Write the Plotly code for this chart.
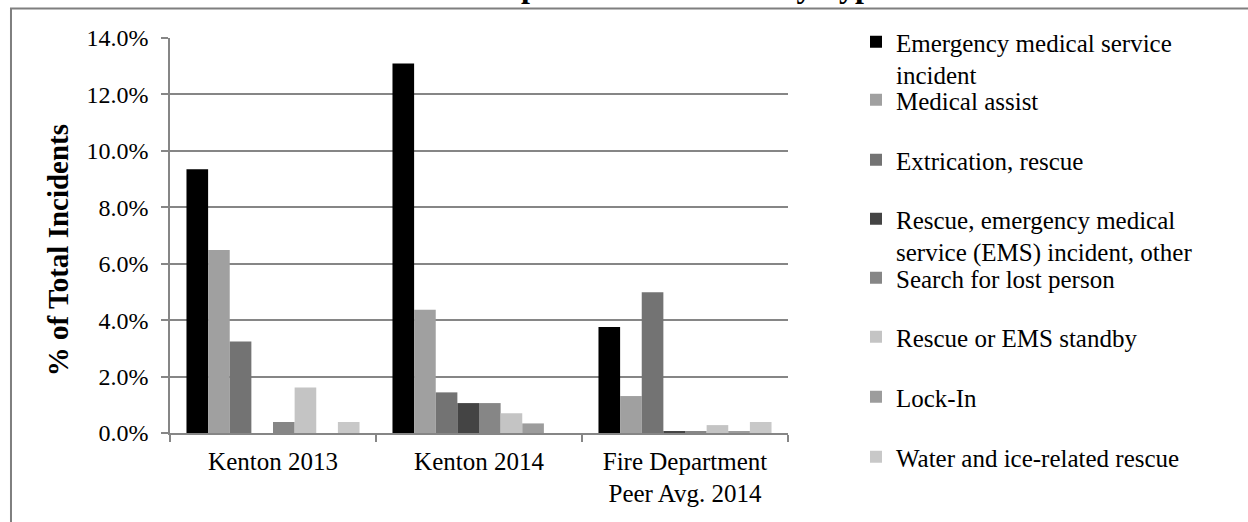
import plotly.graph_objects as go

categories = ["Kenton 2013", "Kenton 2014", "Fire Department<br>Peer Avg. 2014"]

series_names = [
    "Emergency medical service<br>incident",
    "Medical assist",
    "Extrication, rescue",
    "Rescue, emergency medical<br>service (EMS) incident, other",
    "Search for lost person",
    "Rescue or EMS standby",
    "Lock-In",
    "Water and ice-related rescue",
]

# % of total incidents, per series, for each category
ems_incident = [9.35, 13.1, 3.76]
medical_assist = [6.49, 4.37, 1.31]
extrication = [3.24, 1.44, 4.99]
rescue_other = [0.0, 1.06, 0.07]
search_lost = [0.39, 1.06, 0.07]
ems_standby = [1.61, 0.70, 0.28]
lock_in = [0.0, 0.34, 0.07]
water_ice = [0.39, 0.0, 0.39]

series_values = [ems_incident, medical_assist, extrication, rescue_other,
                 search_lost, ems_standby, lock_in, water_ice]
colors = ["#000000", "#a0a0a0", "#737373", "#444444",
          "#868686", "#c4c4c4", "#9c9c9c", "#c8c8c8"]

FONT = "Liberation Serif, Times New Roman, serif"

# plot area in pixels: x 170..788, y 38..433
PLOT_TOP, PLOT_BOTTOM = 38, 433
PLOT_H = PLOT_BOTTOM - PLOT_TOP


def paper_y(px):
    return (PLOT_BOTTOM - px) / PLOT_H


# legend symbol centres (px) - each entry gets its own legend box
legend_rows = [43, 101, 161, 220, 279, 338, 398, 458]

fig = go.Figure()

legends = {}
for i, (name, vals, col) in enumerate(zip(series_names, series_values, colors)):
    key = "legend" if i == 0 else "legend%d" % (i + 1)
    fig.add_trace(go.Bar(
        x=categories,
        y=vals,
        name=name,
        marker=dict(color=col, line=dict(width=0)),
        legend=key,
    ))
    legends[key] = dict(
        x=1.110, y=paper_y(legend_rows[i] - 24), xanchor="left", yanchor="top",
        valign="top",
        font=dict(family=FONT, size=25, color="black"),
        bgcolor="rgba(0,0,0,0)",
    )

fig.update_layout(
    width=1248,
    height=522,
    margin=dict(l=170, r=460, t=PLOT_TOP, b=522 - PLOT_BOTTOM),
    plot_bgcolor="white",
    paper_bgcolor="white",
    barmode="group",
    bargap=0.16,
    bargroupgap=0,
    font=dict(family=FONT, size=24, color="black"),
    showlegend=True,
    xaxis=dict(
        showline=True, linecolor="#868686", linewidth=1.5,
        ticks="outside", tickson="boundaries", ticklen=7,
        tickcolor="#868686", tickwidth=1.5,
        showgrid=False, ticklabelstandoff=5,
        tickfont=dict(family=FONT, size=25),
    ),
    yaxis=dict(
        range=[0, 14], dtick=2, tickformat=".1f", ticksuffix="%",
        showline=True, linecolor="#868686", linewidth=1.5,
        ticks="outside", ticklen=7, tickcolor="#868686", tickwidth=1.5,
        showgrid=True, gridcolor="#868686", gridwidth=1.5,
        zeroline=False, ticklabelstandoff=8,
        tickfont=dict(family=FONT, size=24),
    ),
    shapes=[dict(
        type="rect", xref="paper", yref="paper",
        x0=-0.2573, x1=1.8, y0=-0.3, y1=paper_y(8.5),
        line=dict(color="#7f7f7f", width=2), fillcolor="rgba(0,0,0,0)",
        layer="below",
    )],
    annotations=[
        dict(
            text="<b>% of Total Incidents</b>", xref="paper", yref="paper",
            x=-0.181, y=paper_y(250), xanchor="center", yanchor="middle",
            textangle=-90, showarrow=False,
            font=dict(family=FONT, size=29, color="black"),
        ),
        dict(
            text="<b>Chart 15: Fire Department Incident by Type Totals</b>",
            xref="paper", yref="paper", x=0.741, y=paper_y(6),
            xanchor="center", yanchor="bottom", showarrow=False,
            font=dict(family=FONT, size=32, color="black"),
        ),
    ],
)
fig.update_layout(**legends)

fig.write_html("out.html", config={"displayModeBar": False},
               post_script="document.body.style.margin='0px';")
